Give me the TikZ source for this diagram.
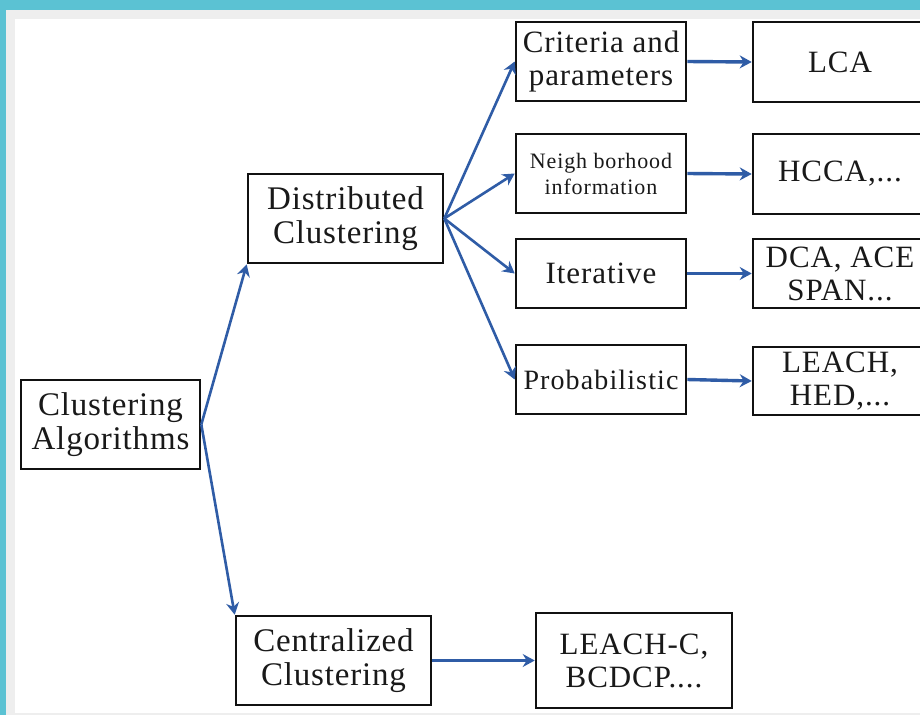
\documentclass[tikz,border=0pt]{standalone}
\usepackage{fontspec}
\setmainfont{Liberation Serif}
\newfontfamily\bigf[LetterSpace=2.5]{Liberation Serif}
\newfontfamily\medf[LetterSpace=3]{Liberation Serif}
\newfontfamily\smlf[LetterSpace=4]{Liberation Serif}
\usetikzlibrary{arrows.meta}
\definecolor{cyanbar}{HTML}{5BC2D3}
\definecolor{graybar}{HTML}{EEEEEE}
\definecolor{arrowblue}{HTML}{2F5CA6}
\definecolor{boxline}{HTML}{111111}
\tikzset{
  box/.style={draw=boxline, line width=2.6pt, fill=white, rectangle, inner sep=0pt,
    align=center, text=black!90},
  bigbox/.style={box, minimum width=#1, font=\bigf\fontsize{33}{34}\selectfont},
  medbox/.style={box, font=\medf\fontsize{31}{33}\selectfont},
  conn/.style={draw=arrowblue, line width=2.6pt, -{Stealth[length=12pt,width=13pt,inset=4pt]}},
  hconn/.style={conn, line width=3.4pt},
}
\begin{document}
\begin{tikzpicture}[x=1pt,y=-1pt]
  \useasboundingbox (0,0) rectangle (920,715);
  \fill[cyanbar] (0,0) rectangle (920,715);
  \fill[graybar] (6,10) rectangle (920,715);
  \fill[white] (15,19) rectangle (920,713);

  % level 0
  \node[bigbox=179pt, minimum height=89pt] (ca) at (110.5,424.5) {Clustering\\Algorithms};
  % level 1
  \node[bigbox=195pt, minimum height=89pt] (dc) at (345.5,218.5) {Distributed\\Clustering};
  \node[bigbox=195pt, minimum height=89pt] (cc) at (333.5,660.5) {Centralized\\Clustering};
  % level 2
  \node[medbox, minimum width=170pt, minimum height=79pt] (crit) at (601,61.5) {Criteria and\\parameters};
  \node[box, minimum width=170pt, minimum height=79pt, font=\smlf\fontsize{22}{26}\selectfont] (neigh) at (601,173.5) {Neigh borhood\\information};
  \node[medbox, minimum width=170pt, minimum height=69pt] (iter) at (601,273.5) {Iterative};
  \node[box, minimum width=170pt, minimum height=69pt, font=\smlf\fontsize{28}{30}\selectfont] (prob) at (601,379.5) {Probabilistic};
  % level 3
  \node[medbox, minimum width=174pt, minimum height=80pt] (lca) at (840,62) {LCA};
  \node[medbox, minimum width=174pt, minimum height=80pt] (hcca) at (840,174) {HCCA,...};
  \node[medbox, minimum width=174pt, minimum height=69pt] (dca) at (840,273.5) {DCA, ACE\\SPAN...};
  \node[medbox, minimum width=174pt, minimum height=68pt] (leach) at (840,381) {LEACH,\\HED,...};
  \node[medbox, minimum width=196pt, minimum height=95pt] (leachc) at (634,660.5) {LEACH-C,\\BCDCP....};

  % connectors
  \draw[conn] (ca.east) -- (dc.south west);
  \draw[conn] (ca.east) -- (cc.north west);
  \draw[conn] (dc.east) -- (crit.west);
  \draw[conn] (dc.east) -- (neigh.west);
  \draw[conn] (dc.east) -- (iter.west);
  \draw[conn] (dc.east) -- (prob.west);
  \draw[hconn] (crit.east) -- (lca.west);
  \draw[hconn] (neigh.east) -- (hcca.west);
  \draw[hconn] (iter.east) -- (dca.west);
  \draw[hconn] (prob.east) -- (leach.west);
  \draw[hconn] (cc.east) -- (leachc.west);
\end{tikzpicture}
\end{document}
